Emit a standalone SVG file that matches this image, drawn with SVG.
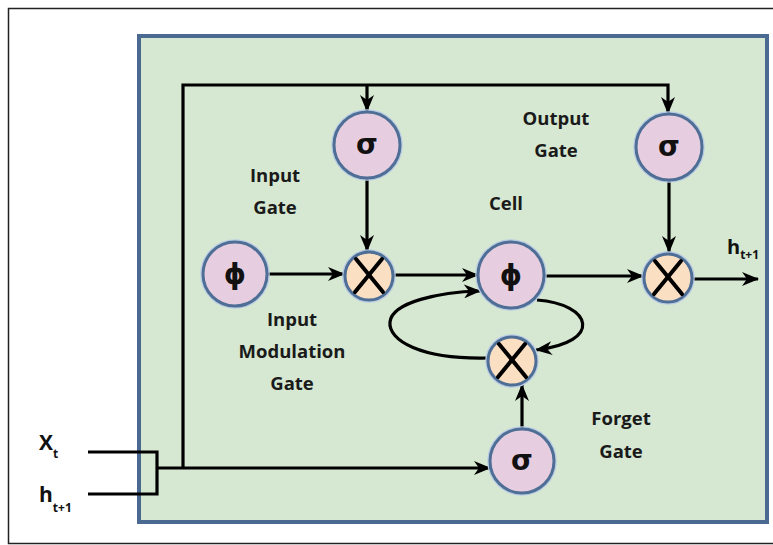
<svg xmlns="http://www.w3.org/2000/svg" width="773" height="545" viewBox="0 0 773 545">
<defs>
<marker id="arr" viewBox="0 0 17 14" refX="16" refY="7" markerWidth="17" markerHeight="14" markerUnits="userSpaceOnUse" orient="auto">
<path d="M0,0 L17,7 L0,14 L5,7 z" fill="#000"/>
</marker>
<style>
.lbl{font-family:"Open Sans","Liberation Sans",sans-serif;font-weight:bold;font-size:18.5px;fill:#1a1a1a;text-anchor:middle}
.sym{font-family:"DejaVu Sans","Liberation Sans",sans-serif;font-weight:bold;font-size:28px;fill:#111;text-anchor:middle}
.gate{fill:#e6cde0;stroke:#4f6e96;stroke-width:3}
.mul{fill:#fbdfc3;stroke:#4f6e96;stroke-width:3}
.halo{fill:none;stroke:#b9cce6;stroke-width:1.5}
.x{stroke:#000;stroke-width:4;stroke-linecap:round}
.c{fill:none;stroke:#000;stroke-width:3.2}
.ca{fill:none;stroke:#000;stroke-width:3.2;marker-end:url(#arr)}
.io{font-family:"Open Sans","Liberation Sans",sans-serif;font-weight:bold;fill:#111}
</style>
</defs>
<rect x="0" y="0" width="773" height="545" fill="#fff"/>
<rect x="8.5" y="8.5" width="790" height="535" fill="none" stroke="#222" stroke-width="1.5"/>
<rect x="139" y="36" width="628" height="486" fill="#d6e8d1" stroke="#4a6a92" stroke-width="4"/>

<g id="connectors">
<path class="c" d="M88,452 H157 V494 H88"/>
<path class="ca" d="M157,468 H490"/>
<path class="ca" d="M183,468 V85 H668 V113"/>
<path class="ca" d="M367,85 V111"/>
<path class="ca" d="M367,179 V251"/>
<path class="ca" d="M267,274 H344"/>
<path class="ca" d="M393,275 H478"/>
<path class="ca" d="M544,276 H643"/>
<path class="ca" d="M669,180 V252"/>
<path class="ca" d="M693,279 H758"/>
<path class="ca" d="M522,429 V385"/>
<path class="ca" d="M537,300 C592,304 604,342 536,350"/>
<path class="ca" d="M490,358 C420,360 388,340 390,322 C392,302 440,292 480,291"/>
</g>

<g id="sigma-input"><circle class="halo" cx="367" cy="145" r="35"/><circle class="gate" cx="367" cy="145" r="33"/><text class="sym" x="367" y="154">σ</text></g>
<g id="phi-input-mod"><circle class="halo" cx="235" cy="274" r="34"/><circle class="gate" cx="235" cy="274" r="32"/><text class="sym" x="235" y="284">ϕ</text></g>
<g id="mult-input"><circle class="halo" cx="369" cy="276" r="26"/><circle class="mul" cx="369" cy="276" r="24"/><line class="x" x1="356" y1="259" x2="383" y2="292"/><line class="x" x1="382" y1="259" x2="355" y2="292"/></g>
<g id="phi-cell"><circle class="halo" cx="511" cy="275" r="35"/><circle class="gate" cx="511" cy="275" r="33"/><text class="sym" x="511" y="285">ϕ</text></g>
<g id="mult-forget"><circle class="halo" cx="512" cy="361" r="26"/><circle class="mul" cx="512" cy="361" r="24"/><line class="x" x1="499" y1="344" x2="526" y2="377"/><line class="x" x1="525" y1="344" x2="498" y2="377"/></g>
<g id="sigma-forget"><circle class="halo" cx="522" cy="461" r="34"/><circle class="gate" cx="522" cy="461" r="32"/><text class="sym" x="522" y="470">σ</text></g>
<g id="sigma-output"><circle class="halo" cx="669" cy="147" r="35"/><circle class="gate" cx="669" cy="147" r="33"/><text class="sym" x="669" y="156">σ</text></g>
<g id="mult-output"><circle class="halo" cx="668" cy="278" r="26"/><circle class="mul" cx="668" cy="278" r="24"/><line class="x" x1="655" y1="261" x2="682" y2="294"/><line class="x" x1="681" y1="261" x2="654" y2="294"/></g>

<g id="labels">
<text class="lbl" x="275" y="182">Input</text>
<text class="lbl" x="275" y="214">Gate</text>
<text class="lbl" x="292" y="326">Input</text>
<text class="lbl" x="292" y="358">Modulation</text>
<text class="lbl" x="292" y="390">Gate</text>
<text class="lbl" x="506" y="210">Cell</text>
<text class="lbl" x="556" y="125">Output</text>
<text class="lbl" x="556" y="157">Gate</text>
<text class="lbl" x="621" y="425">Forget</text>
<text class="lbl" x="621" y="458">Gate</text>
<text class="io" x="727" y="254" font-size="20">h<tspan font-size="12" dy="5">t+1</tspan></text>
<text class="io" x="39" y="450" font-size="21">X<tspan font-size="12" dy="8">t</tspan></text>
<text class="io" x="39" y="502" font-size="21">h<tspan font-size="12" dy="10">t+1</tspan></text>
</g>
</svg>
